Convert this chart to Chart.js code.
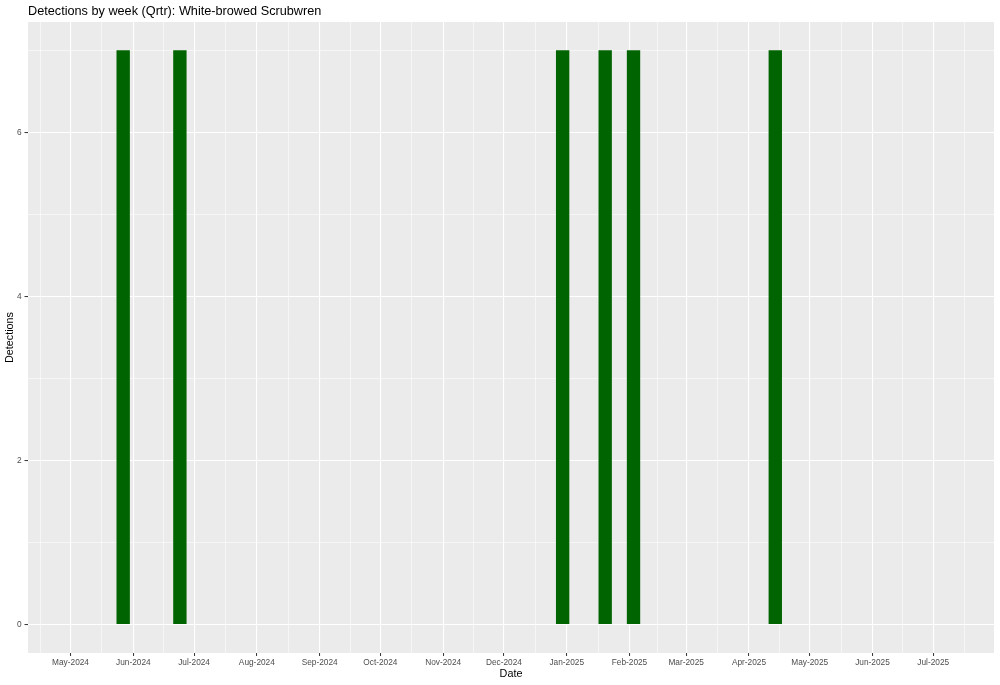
<!DOCTYPE html>
<html>
<head>
<meta charset="utf-8">
<script src="https://cdn.jsdelivr.net/npm/chart.js@4/dist/chart.umd.min.js"></script>
<style>
  html, body { margin: 0; padding: 0; background: #fff; }
  canvas { display: block; }
</style>
</head>
<body>
<canvas id="chart" width="1000" height="685"></canvas>
<script>
// weekly detection data (week start dates, Mondays)
const weekStarts = ['2024-05-27', '2024-06-24', '2024-12-30', '2025-01-20', '2025-02-03', '2025-04-14'];
const detections = [7, 7, 7, 7, 7, 7];

// axis breaks
const monthBreaks = ['2024-04-01', '2024-05-01', '2024-06-01', '2024-07-01', '2024-08-01', '2024-09-01',
  '2024-10-01', '2024-11-01', '2024-12-01', '2025-01-01', '2025-02-01', '2025-03-01', '2025-04-01',
  '2025-05-01', '2025-06-01', '2025-07-01', '2025-08-01'];
const monthNames = ['Jan', 'Feb', 'Mar', 'Apr', 'May', 'Jun', 'Jul', 'Aug', 'Sep', 'Oct', 'Nov', 'Dec'];
const yBreaks = [0, 2, 4, 6];
const yMinorBreaks = [1, 3, 5, 7];

const xStart = '2024-04-10';
const xEnd = '2025-07-31';

const FONT = '"Liberation Sans", Arial, Helvetica, sans-serif';

// dates -> day numbers
const toDay = s => Date.UTC(+s.slice(0, 4), +s.slice(5, 7) - 1, +s.slice(8, 10)) / 86400000;
const dayLabel = d => {
  const dt = new Date(d * 86400000);
  return monthNames[dt.getUTCMonth()] + '-' + dt.getUTCFullYear();
};

const xMin = toDay(xStart);
const xMax = toDay(xEnd);
const monthDays = monthBreaks.map(toDay);
const xMajor = monthDays.filter(d => d >= xMin && d <= xMax);
const xMinor = [];
for (let i = 0; i < monthDays.length - 1; i++) {
  const m = (monthDays[i] + monthDays[i + 1]) / 2;
  if (m >= xMin && m <= xMax) xMinor.push(m);
}

const barData = weekStarts.map((w, i) => ({ x: toDay(w), y: detections[i] }));

const panelBg = {
  id: 'panelBg',
  beforeDraw(chart) {
    const { ctx, chartArea: a } = chart;
    ctx.save();
    ctx.fillStyle = '#EBEBEB';
    ctx.fillRect(a.left, a.top, a.right - a.left, a.bottom - a.top);
    ctx.restore();
  }
};

const plotTitle = {
  id: 'plotTitle',
  afterDraw(chart) {
    const { ctx, chartArea: a } = chart;
    ctx.save();
    ctx.font = '12.7px ' + FONT;
    ctx.fillStyle = '#000';
    ctx.textAlign = 'left';
    ctx.textBaseline = 'alphabetic';
    ctx.fillText('Detections by week (Qrtr): White-browed Scrubwren', a.left, 15);
    ctx.restore();
  }
};

const isMajorX = v => xMajor.includes(v);
const isMajorY = v => yBreaks.includes(v);

new Chart(document.getElementById('chart'), {
  type: 'bar',
  data: {
    datasets: [{
      data: barData,
      backgroundColor: '#006400',
      borderWidth: 0,
      barThickness: 12.7
    }]
  },
  plugins: [panelBg, plotTitle],
  options: {
    responsive: false,
    animation: false,
    layout: { padding: { top: 22, right: 6, left: 0, bottom: 0 } },
    plugins: {
      legend: { display: false },
      tooltip: { enabled: false }
    },
    scales: {
      x: {
        type: 'linear',
        offset: false,
        min: xMin,
        max: xMax,
        afterBuildTicks: s => {
          s.ticks = xMajor.concat(xMinor).sort((a, b) => a - b).map(v => ({ value: v }));
        },
        afterFit: s => { s.height = 32; },
        border: { display: false },
        grid: {
          offset: false,
          color: '#FFFFFF',
          lineWidth: c => isMajorX(c.tick.value) ? 1.1 : 0.55,
          tickColor: c => isMajorX(c.tick.value) ? '#333333' : 'rgba(0,0,0,0)',
          tickLength: 3,
          tickWidth: 1
        },
        ticks: {
          autoSkip: false,
          maxRotation: 0,
          padding: 2,
          color: '#4D4D4D',
          font: { family: FONT, size: 8.3 },
          callback: v => isMajorX(v) ? dayLabel(v) : ''
        },
        title: {
          display: true,
          text: 'Date',
          color: '#000',
          font: { family: FONT, size: 10.8, lineHeight: 1.2 },
          padding: { top: 0, bottom: 4 }
        }
      },
      y: {
        type: 'linear',
        min: -0.35,
        max: 7.35,
        afterBuildTicks: s => {
          s.ticks = yBreaks.concat(yMinorBreaks).sort((a, b) => a - b).map(v => ({ value: v }));
        },
        afterFit: s => { s.width = 28; },
        border: { display: false },
        grid: {
          color: '#FFFFFF',
          lineWidth: c => isMajorY(c.tick.value) ? 1.1 : 0.55,
          tickColor: c => isMajorY(c.tick.value) ? '#333333' : 'rgba(0,0,0,0)',
          tickLength: 3.5,
          tickWidth: 1
        },
        ticks: {
          autoSkip: false,
          padding: 3,
          color: '#4D4D4D',
          font: { family: FONT, size: 8.3 },
          callback: v => isMajorY(v) ? String(v) : ''
        },
        title: {
          display: true,
          text: 'Detections',
          color: '#000',
          font: { family: FONT, size: 10.8, lineHeight: 1.2 },
          padding: { top: 4, bottom: 0 }
        }
      }
    }
  }
});
</script>
</body>
</html>
